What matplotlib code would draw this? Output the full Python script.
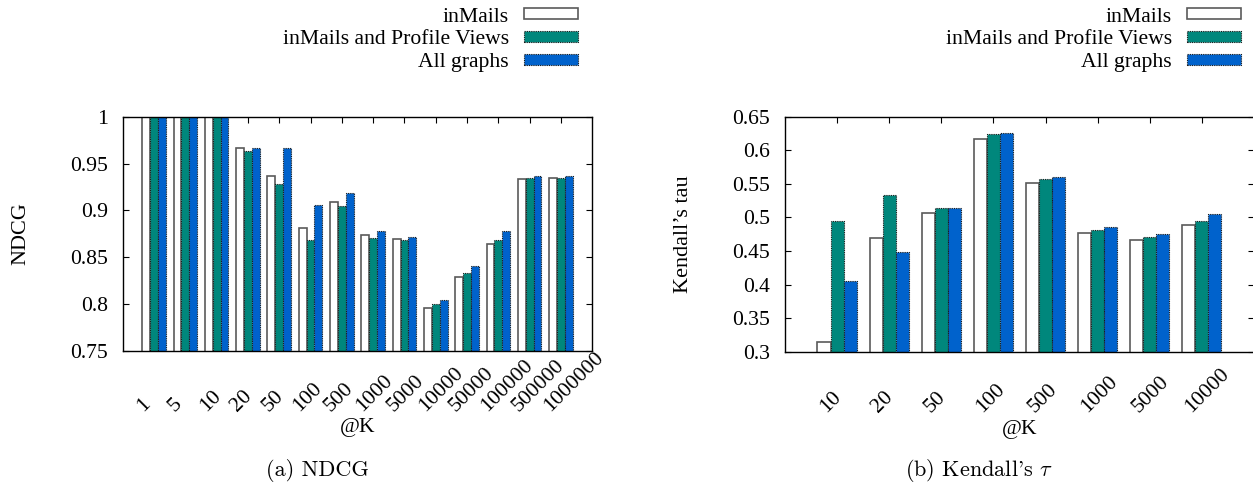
import matplotlib
matplotlib.use("Agg")
import matplotlib.pyplot as plt
from matplotlib import transforms
from matplotlib.patches import Patch
import numpy as np

# ---- data -------------------------------------------------------------
series_names = ["inMails", "inMails and Profile Views", "All graphs"]

ndcg_k = ["1", "5", "10", "20", "50", "100", "500", "1000", "5000",
          "10000", "50000", "100000", "500000", "1000000"]
ndcg_inmails = [1.0, 1.0, 1.0, 0.967, 0.937, 0.881, 0.909, 0.874, 0.869,
                0.796, 0.829, 0.864, 0.933, 0.934]
ndcg_inmails_pv = [1.0, 1.0, 1.0, 0.963, 0.928, 0.868, 0.905, 0.870, 0.868,
                   0.800, 0.833, 0.868, 0.934, 0.934]
ndcg_all = [1.0, 1.0, 1.0, 0.967, 0.967, 0.906, 0.918, 0.878, 0.871,
            0.804, 0.841, 0.878, 0.937, 0.937]
ndcg_yticks = [0.75, 0.8, 0.85, 0.9, 0.95, 1.0]

tau_k = ["10", "20", "50", "100", "500", "1000", "5000", "10000"]
tau_inmails = [0.315, 0.470, 0.507, 0.617, 0.551, 0.477, 0.467, 0.488]
tau_inmails_pv = [0.495, 0.534, 0.514, 0.624, 0.557, 0.481, 0.471, 0.494]
tau_all = [0.405, 0.448, 0.514, 0.626, 0.560, 0.486, 0.475, 0.505]
tau_yticks = [0.3, 0.35, 0.4, 0.45, 0.5, 0.55, 0.6, 0.65]

# ---- style ------------------------------------------------------------
plt.rcParams["font.family"] = ["Liberation Serif", "DejaVu Serif"]
plt.rcParams["mathtext.fontset"] = "cm"
FS = 15.6

bar_styles = [
    dict(facecolor="white", edgecolor="#5a5a5a", linewidth=1.2, linestyle="-"),
    dict(facecolor="#00877c", edgecolor="#1a1a1a", linewidth=0.8, linestyle=(0, (1, 1))),
    dict(facecolor="#0062cc", edgecolor="#1a1a1a", linewidth=0.8, linestyle=(0, (1, 1))),
]

W, H = 1253, 483
fig = plt.figure(figsize=(W / 100, H / 100), dpi=100)


def panel(rect, cats, series, yticks, ylabel):
    ax = fig.add_axes(rect)
    x = np.arange(len(cats))
    w = 0.25
    for j, vals in enumerate(series):
        ax.bar(x + (j - 1) * w, vals, width=w, align="center", **bar_styles[j])
    ax.set_xlim(-1, len(cats))
    ax.set_ylim(yticks[0], yticks[-1])
    ax.set_axisbelow(True)
    ax.set_yticks(yticks)
    ax.set_yticklabels(["%g" % t for t in yticks])
    ax.set_xticks(x)
    ax.set_xticklabels([""] * len(cats))
    ax.tick_params(direction="in", length=4, width=0.8, top=True, right=True,
                   labelsize=FS, pad=10.5)
    for s in ax.spines.values():
        s.set_linewidth(1.0)
    # rotated category labels, anchored at their lower-left end
    base = transforms.blended_transform_factory(ax.transData, ax.transAxes)
    off = transforms.ScaledTranslation(-11 / 100, -61 / 100, fig.dpi_scale_trans)
    for i, lbl in enumerate(cats):
        ax.text(i, 0, lbl, transform=base + off, rotation=45,
                rotation_mode="anchor", ha="left", va="baseline",
                fontsize=FS, clip_on=False)
    ax.set_xlabel("@K", fontsize=FS, va="center")
    ax.xaxis.set_label_coords(0.5, -0.33)
    ax.set_ylabel(ylabel, fontsize=16, va="center")
    ax.yaxis.set_label_coords(-0.2165, 0.5)
    return ax


ax1 = panel([122.7 / W, 1 - 350.7 / H, 469.6 / W, 234 / H],
            ndcg_k, [ndcg_inmails, ndcg_inmails_pv, ndcg_all], ndcg_yticks, "NDCG")
ax2 = panel([784.9 / W, 1 - 351.7 / H, 469.1 / W, 235 / H],
            tau_k, [tau_inmails, tau_inmails_pv, tau_all], tau_yticks, "Kendall\u2019s tau")

handles = [Patch(label=n, **bar_styles[j]) for j, n in enumerate(series_names)]
for ax, xr in ((ax1, 578), (ax2, 1241)):
    ax.legend(handles=handles, loc="upper right",
              bbox_to_anchor=(xr / W, 1 - 7.5 / H), bbox_transform=fig.transFigure,
              frameon=False, markerfirst=False, fontsize=FS,
              handlelength=2.5, handleheight=0.38, handletextpad=0.7,
              labelspacing=0.18, borderpad=0, borderaxespad=0)

fig.text(317 / W, 1 - 470 / H, "(a) NDCG", family="cmr10", fontsize=16,
         ha="center", va="center")
fig.text(979 / W, 1 - 470 / H, "(b) Kendall's $\\tau$", family="cmr10",
         fontsize=16, ha="center", va="center")

fig.savefig("out.png", dpi=100)
